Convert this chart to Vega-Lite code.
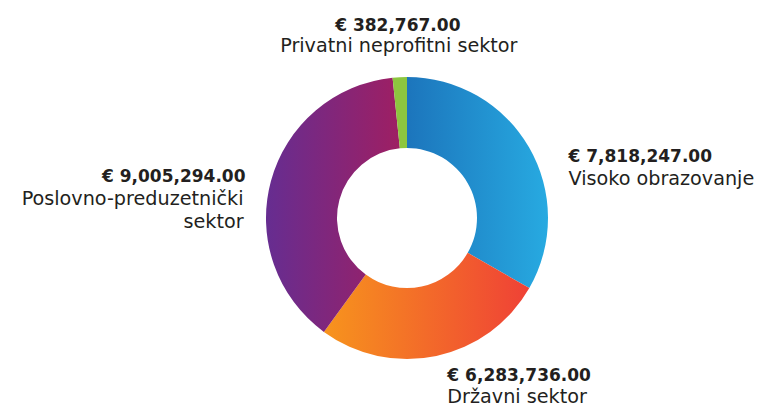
{
  "$schema": "https://vega.github.io/schema/vega-lite/v6.json",
  "autosize": {"type": "none"},
  "width": 704,
  "height": 380,
  "padding": {"left": 55, "top": 28, "right": 0, "bottom": 0},
  "background": "white",
  "view": {"stroke": null},
  "data": {
    "values": [
      {"name": "Visoko obrazovanje", "value": 7818247},
      {"name": "Državni sektor", "value": 6283736},
      {"name": "Poslovno-preduzetnički sektor", "value": 9005294},
      {"name": "Privatni neprofitni sektor", "value": 382767}
    ]
  },
  "transform": [
    {"window": [{"op": "row_number", "as": "idx"}]},
    {"stack": "value", "groupby": [], "sort": [{"field": "idx"}], "as": ["v0", "v1"]},
    {"calculate": "(datum.v0 + datum.v1) / 2", "as": "mid"},
    {"calculate": "'€ ' + format(datum.value, ',.2f')", "as": "label"},
    {"calculate": "datum.idx == 3 ? split(datum.name, ' ') : datum.name", "as": "lines"}
  ],
  "layer": [
    {
      "transform": [{"filter": "datum.idx == 1"}],
      "mark": {"type": "arc", "innerRadius": 70, "outerRadius": 141, "stroke": null,
        "fill": {"gradient": "linear", "x1": 0, "y1": 0, "x2": 1, "y2": 0,
          "stops": [{"offset": 0, "color": "#1c75bc"}, {"offset": 1, "color": "#27aae1"}]}},
      "encoding": {"theta": {"field": "v1", "type": "quantitative", "scale": {"zero": true, "nice": false}}, "theta2": {"field": "v0"}}
    },
    {
      "transform": [{"filter": "datum.idx == 2"}],
      "mark": {"type": "arc", "innerRadius": 70, "outerRadius": 141, "stroke": null,
        "fill": {"gradient": "linear", "x1": 0, "y1": 0, "x2": 1, "y2": 0,
          "stops": [{"offset": 0, "color": "#f7941d"}, {"offset": 1, "color": "#ef4136"}]}},
      "encoding": {"theta": {"field": "v1", "type": "quantitative"}, "theta2": {"field": "v0"}}
    },
    {
      "transform": [{"filter": "datum.idx == 3"}],
      "mark": {"type": "arc", "innerRadius": 70, "outerRadius": 141, "stroke": null,
        "fill": {"gradient": "linear", "x1": 0, "y1": 0, "x2": 1, "y2": 0,
          "stops": [{"offset": 0, "color": "#662d91"}, {"offset": 1, "color": "#9e1f63"}]}},
      "encoding": {"theta": {"field": "v1", "type": "quantitative"}, "theta2": {"field": "v0"}}
    },
    {
      "transform": [{"filter": "datum.idx == 4"}],
      "mark": {"type": "arc", "innerRadius": 70, "outerRadius": 141, "stroke": null, "fill": "#8dc63f"},
      "encoding": {"theta": {"field": "v1", "type": "quantitative"}, "theta2": {"field": "v0"}}
    },
    {
      "transform": [{"filter": "datum.idx == 1"}],
      "mark": {"type": "text", "radius": 160, "align": "left", "baseline": "alphabetic", "dx": 23, "dy": 24, "font": "DejaVu Sans", "fontWeight": "bold", "fontSize": 17, "color": "#231f20"},
      "encoding": {"theta": {"field": "mid", "type": "quantitative"}, "text": {"field": "label"}}
    },
    {
      "transform": [{"filter": "datum.idx == 1"}],
      "mark": {"type": "text", "radius": 160, "align": "left", "baseline": "alphabetic", "dx": 23, "dy": 47, "font": "DejaVu Sans", "fontSize": 19.2, "color": "#231f20"},
      "encoding": {"theta": {"field": "mid", "type": "quantitative"}, "text": {"field": "lines"}}
    },
    {
      "transform": [{"filter": "datum.idx == 2"}],
      "mark": {"type": "text", "radius": 160, "align": "left", "baseline": "alphabetic", "dx": 7, "dy": 7, "font": "DejaVu Sans", "fontWeight": "bold", "fontSize": 17, "color": "#231f20"},
      "encoding": {"theta": {"field": "mid", "type": "quantitative"}, "text": {"field": "label"}}
    },
    {
      "transform": [{"filter": "datum.idx == 2"}],
      "mark": {"type": "text", "radius": 160, "align": "left", "baseline": "alphabetic", "dx": 7, "dy": 29, "font": "DejaVu Sans", "fontSize": 19.2, "color": "#231f20"},
      "encoding": {"theta": {"field": "mid", "type": "quantitative"}, "text": {"field": "lines"}}
    },
    {
      "transform": [{"filter": "datum.idx == 3"}],
      "mark": {"type": "text", "radius": 160, "align": "right", "baseline": "alphabetic", "dx": -7, "dy": 6, "font": "DejaVu Sans", "fontWeight": "bold", "fontSize": 17, "color": "#231f20"},
      "encoding": {"theta": {"field": "mid", "type": "quantitative"}, "text": {"field": "label"}}
    },
    {
      "transform": [{"filter": "datum.idx == 3"}],
      "mark": {"type": "text", "radius": 160, "align": "right", "baseline": "alphabetic", "dx": -9, "dy": 29, "lineHeight": 23, "font": "DejaVu Sans", "fontSize": 19.2, "color": "#231f20"},
      "encoding": {"theta": {"field": "mid", "type": "quantitative"}, "text": {"field": "lines"}}
    },
    {
      "transform": [{"filter": "datum.idx == 4"}],
      "mark": {"type": "text", "radius": 160, "align": "center", "baseline": "alphabetic", "dx": -1, "dy": -27, "font": "DejaVu Sans", "fontWeight": "bold", "fontSize": 17, "color": "#231f20"},
      "encoding": {"theta": {"field": "mid", "type": "quantitative"}, "text": {"field": "label"}}
    },
    {
      "transform": [{"filter": "datum.idx == 4"}],
      "mark": {"type": "text", "radius": 160, "align": "center", "baseline": "alphabetic", "dx": 0, "dy": -6, "font": "DejaVu Sans", "fontSize": 19.2, "color": "#231f20"},
      "encoding": {"theta": {"field": "mid", "type": "quantitative"}, "text": {"field": "lines"}}
    }
  ]
}
